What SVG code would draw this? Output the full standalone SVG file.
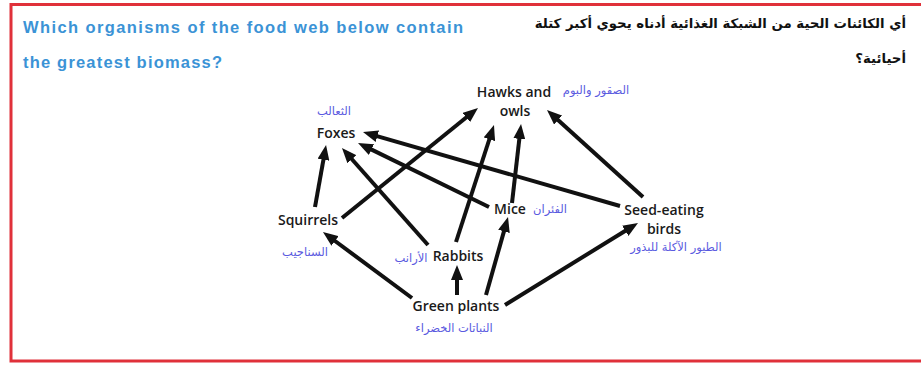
<svg xmlns="http://www.w3.org/2000/svg" width="921" height="366" viewBox="0 0 921 366">
<defs>
<marker id="ah" markerUnits="userSpaceOnUse" markerWidth="16" markerHeight="12" viewBox="0 0 16 12" refX="5" refY="6" orient="auto">
<path d="M0,0 L15,6 L0,12 Z" fill="#111"/>
</marker>
<style>
.en{font-family:"Liberation Sans",Arial,sans-serif;font-weight:bold;font-size:16.5px;fill:#3b93d6}
.ar{font-family:"DejaVu Sans",sans-serif;font-weight:bold;font-size:13.3px;fill:#111}
.n{font-family:"Open Sans","Noto Sans",sans-serif;font-weight:600;font-size:14px;fill:#1a1a1a}
.a{font-family:"DejaVu Sans",sans-serif;font-size:11.5px;fill:#5a5ae0}
.c line{stroke:#111;stroke-width:4;marker-end:url(#ah)}
</style>
</defs>
<rect width="921" height="366" fill="#fff"/>
<path d="M921,4.5 H11 V361 H921" fill="none" stroke="#e0313a" stroke-width="3"/>
<g id="title">
<text class="en" x="23" y="33" textLength="440" lengthAdjust="spacing">Which organisms of the food web below contain</text>
<text class="en" x="23" y="68" textLength="199" lengthAdjust="spacing">the greatest biomass?</text>
<text class="ar" x="906" y="28" text-anchor="end">أي الكائنات الحية من الشبكة الغذائية أدناه يحوي أكبر كتلة</text>
<text class="ar" x="906" y="63" text-anchor="end">أحيائية؟</text>
</g>
<g class="c" id="connectors">
<line x1="315" y1="207" x2="324.3" y2="154.8"/>
<line x1="342" y1="218" x2="470.2" y2="114.3"/>
<line x1="428" y1="245" x2="348.6" y2="155.5"/>
<line x1="456" y1="242" x2="490.9" y2="134.5"/>
<line x1="489" y1="207" x2="367" y2="147.4"/>
<line x1="512" y1="203" x2="519.9" y2="133.9"/>
<line x1="620" y1="206" x2="372.6" y2="134.8"/>
<line x1="643" y1="197" x2="554.4" y2="116.7"/>
<line x1="412" y1="298" x2="331" y2="238"/>
<line x1="457" y1="295" x2="457" y2="275"/>
<line x1="486" y1="295" x2="505.3" y2="226.6"/>
<line x1="505" y1="305" x2="629.5" y2="228.2"/>
</g>
<g id="hawks">
<text class="n" x="514" y="97" text-anchor="middle">Hawks and</text>
<text class="n" x="515" y="116" text-anchor="middle">owls</text>
<text class="a" x="596" y="94" text-anchor="middle">الصقور والبوم</text>
</g>
<g id="foxes">
<text class="n" x="336" y="138" text-anchor="middle">Foxes</text>
<text class="a" x="334" y="115" text-anchor="middle">الثعالب</text>
</g>
<g id="squirrels">
<text class="n" x="308" y="225" text-anchor="middle">Squirrels</text>
<text class="a" x="305" y="256" text-anchor="middle">السناجيب</text>
</g>
<g id="rabbits">
<text class="n" x="458" y="261" text-anchor="middle">Rabbits</text>
<text class="a" x="411" y="262" text-anchor="middle">الأرانب</text>
</g>
<g id="mice">
<text class="n" x="510" y="214" text-anchor="middle">Mice</text>
<text class="a" x="550" y="213" text-anchor="middle">الفئران</text>
</g>
<g id="birds">
<text class="n" x="664" y="215" text-anchor="middle">Seed-eating</text>
<text class="n" x="664" y="234" text-anchor="middle">birds</text>
<text class="a" x="676" y="251" text-anchor="middle">الطيور الآكلة للبذور</text>
</g>
<g id="plants">
<text class="n" x="456" y="311" text-anchor="middle">Green plants</text>
<text class="a" x="454" y="332" text-anchor="middle">النباتات الخضراء</text>
</g>
</svg>
